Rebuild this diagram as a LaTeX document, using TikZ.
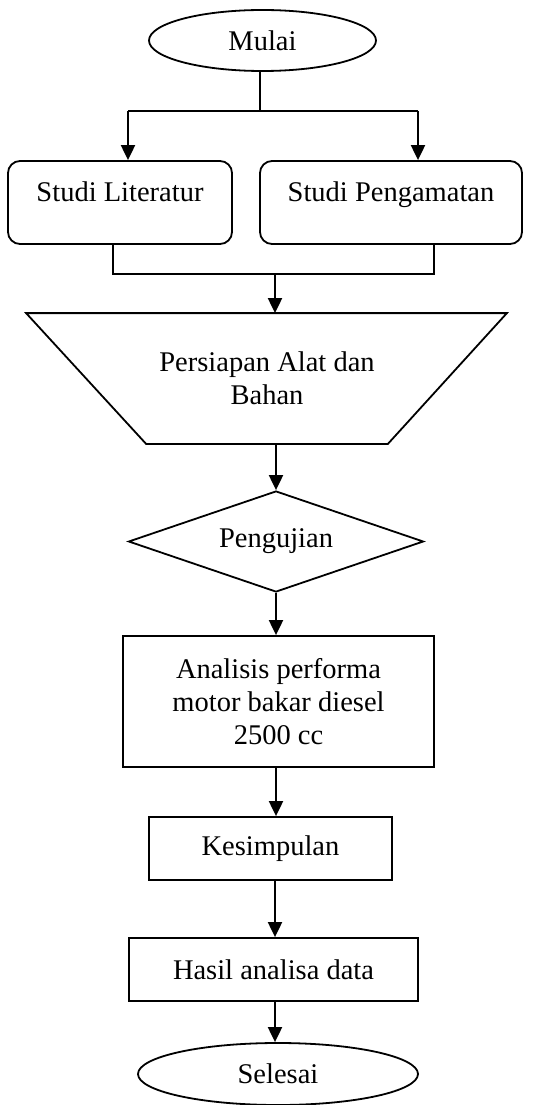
\documentclass[tikz,border=0pt]{standalone}
\usepackage{fontspec}
\setmainfont{Liberation Serif}
\usetikzlibrary{shapes.geometric,arrows.meta,calc}
\begin{document}
\begin{tikzpicture}[x=1pt,y=-1pt,
  every node/.style={font=\fontsize{28.5}{33}\selectfont, line width=1.8pt},
  ln/.style={line width=2pt},
  arr/.style={line width=2pt,-{Triangle[length=15pt,width=14pt]}},
  term/.style={ellipse,draw,inner sep=0pt},
  rbox/.style={rectangle,draw,rounded corners=12pt,text height=20pt,text depth=23pt,inner sep=0pt},
  pbox/.style={rectangle,draw,inner sep=0pt,align=center}]
\useasboundingbox (0,0) rectangle (535,1105);
\node[term,minimum width=227pt,minimum height=61pt] (mulai) at (262.5,40.5) {Mulai};
\node[rbox,minimum width=224pt,minimum height=83pt] (lit) at (120,202.5) {Studi Literatur};
\node[rbox,minimum width=262pt,minimum height=83pt] (peng) at (391,202.5) {Studi Pengamatan};
\node[align=center,minimum width=240pt,minimum height=129pt,inner sep=0pt] (prep) at (267,378.5) {Persiapan Alat dan\\Bahan};
\draw[line width=1.8pt] ($(prep.north west)+(-120,0)$) -- ($(prep.north east)+(119,0)$) -- (prep.south east) -- (prep.south west) -- cycle;
\node[diamond,draw,inner sep=0pt,aspect=2.9,minimum width=295pt,minimum height=101pt] (uji) at (276,541.5) {Pengujian};
\node[pbox,minimum width=311pt,minimum height=131pt] (ana) at (278.5,701.5) {Analisis performa\\motor bakar diesel\\2500 cc};
\node[pbox,minimum width=243pt,minimum height=63pt] (kes) at (270.5,848.5) {Kesimpulan};
\node[pbox,minimum width=289pt,minimum height=63pt] (has) at (273.5,969.5) {Hasil analisa data};
\node[term,minimum width=280pt,minimum height=62pt] (sel) at (278,1074) {Selesai};
% connectors
\coordinate (split) at (260,111);
\coordinate (sL) at (128,111);
\coordinate (sR) at (418,111);
\coordinate (jL) at (113,274);
\coordinate (jR) at (434,274);
\coordinate (jM) at (275,274);
\coordinate (axis) at (276,0);
\draw[ln] (mulai.south -| split) -- (split);
\draw[ln] (sL) -- (sR);
\draw[arr] (sL) -- (sL |- lit.north);
\draw[arr] (sR) -- (sR |- peng.north);
\draw[ln] (jL |- lit.south) -- (jL) -- (jR) -- (jR |- peng.south);
\draw[arr] (jM) -- (jM |- prep.north);
\draw[arr] (prep.south -| axis) -- (uji.north);
\draw[arr] (uji.south) -- (uji.south |- ana.north);
\draw[arr] (ana.south -| axis) -- (kes.north -| axis);
\draw[arr] (kes.south -| jM) -- (has.north -| jM);
\draw[arr] (has.south -| jM) -- (sel.north -| jM);
\end{tikzpicture}
\end{document}
